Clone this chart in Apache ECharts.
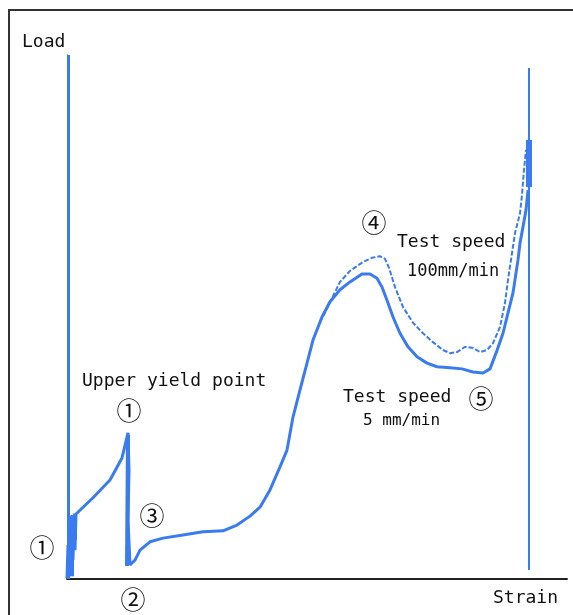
<!DOCTYPE html>
<html>
<head>
    <title>Load - Strain</title>
    <script src="https://cdn.jsdelivr.net/npm/echarts@6/dist/echarts.min.js"></script>
    <meta charset="utf-8">
    <style>
        html, body { margin: 0; padding: 0; background: #fff; }
    </style>
</head>
<body>
<div id="load_strain" style="width:573px;height:615px;"></div>
<script type="text/javascript">
    // strain / load (axes 0..100, no units shown)
    var slowStrain = [0, 0.2, 0.4, 0.6, 0.8, 1.0, 1.2, 1.4, 1.6, 1.8, 2.0, 5.2, 8.6, 11.0, 12.2, 12.4, 12.2, 12.6,
        13.6, 14.6, 16.6, 19.2, 23.2, 27.2, 31.2, 34.0, 36.6, 38.6, 40.6, 42.6, 44.0, 45.2, 46.6, 48.0, 49.2,
        51.0, 52.6, 54.6, 56.6, 59.0, 60.6, 62.0, 63.0, 64.0, 65.2, 66.6, 68.2, 70.0, 72.0, 74.0, 76.6, 79.0,
        81.2, 83.2, 84.6, 85.8, 87.2, 88.2, 89.2, 90.2, 90.6, 91.2, 91.8, 92.2];
    var slowLoad = [0.2, 6.5, 0.8, 11.3, 1.7, 12.2, 3.6, 11.6, 5.5, 12.4, 12.2, 15.5, 18.9, 23.1, 27.9, 20.8, 11.3, 2.7,
        3.6, 5.5, 7.1, 7.8, 8.4, 9.0, 9.2, 10.3, 12.0, 13.7, 17.0, 21.4, 24.6, 30.9, 36.1, 41.2, 45.6,
        50.0, 52.9, 55.2, 56.7, 58.2, 58.2, 57.4, 55.7, 53.2, 50.0, 46.9, 44.3, 42.4, 41.2, 40.5, 40.3, 40.1,
        39.5, 39.3, 40.1, 43.1, 46.9, 50.8, 54.6, 60.9, 64.1, 67.2, 70.4, 74.2];

    var fastStrain = [50.6, 52.8, 54.6, 56.6, 59.2, 61.0, 62.6, 63.6, 64.4, 65.6, 67.2, 69.2, 71.2, 73.2, 75.2,
        76.6, 78.0, 79.6, 81.2, 82.6, 84.0, 85.2, 86.6, 87.6, 88.2, 88.8, 89.6, 90.6, 91.0, 91.4, 91.8];
    var fastLoad = [49.0, 53.2, 56.7, 58.8, 60.5, 61.3, 61.6, 61.1, 59.4, 55.7, 51.9, 48.9, 46.9, 45.2, 43.7,
        43.1, 43.3, 44.3, 44.1, 43.3, 43.7, 45.0, 48.1, 52.7, 57.1, 60.9, 66.0, 69.8, 73.3, 78.1, 81.9];

    // elastic part along the load axis, the noisy start, the yield drop and the fracture spike
    var elasticStrain = [0.3, 0.3];
    var elasticLoad = [0, 100];
    var startStrain = [0.8, 0.8];
    var startLoad = [0.5, 12.0];
    var startTopStrain = [1.6, 1.6];
    var startTopLoad = [7.5, 12.5];
    var dropStrain = [12.0, 12.2];
    var dropLoad = [2.5, 27.5];
    var breakStrain = [92.4, 92.4];
    var breakLoad = [1.7, 97.5];
    var breakBandLoad = [74.8, 83.8];

    function pairs(xs, ys) {
        var out = [];
        for (var i = 0; i < xs.length; i++) out.push([xs[i], ys[i]]);
        return out;
    }

    var blue = '#3b7bf2';
    var txtFont = '"DejaVu Sans Mono", monospace';
    var numFont = '"Noto Sans CJK JP", sans-serif';

    function label(x, y, text, size) {
        return {
            type: 'text', x: x, y: y,
            style: { text: text, font: size + 'px ' + txtFont, fill: '#111', align: 'left', verticalAlign: 'middle' }
        };
    }
    function circled(x, y, text) {
        return {
            type: 'text', x: x, y: y,
            style: { text: text, font: '25px ' + numFont, fill: '#111', align: 'center', verticalAlign: 'middle' }
        };
    }
    function band(name, xs, ys, width) {
        return {
            name: name, type: 'line', symbol: 'none',
            lineStyle: { color: blue, width: width },
            data: pairs(xs, ys)
        };
    }

    var myChart = echarts.init(document.getElementById('load_strain'));

    var option = {
        animation: false,
        grid: { left: 67, top: 55, right: 6, bottom: 36 },
        xAxis: {
            type: 'value', min: 0, max: 100,
            axisLine: { lineStyle: { color: '#222', width: 2 } },
            axisTick: { show: false }, axisLabel: { show: false }, splitLine: { show: false }
        },
        yAxis: {
            type: 'value', min: 0, max: 100,
            axisLine: { show: true, lineStyle: { color: '#222', width: 1 } },
            axisTick: { show: false }, axisLabel: { show: false }, splitLine: { show: false }
        },
        series: [
            band('elastic', elasticStrain, elasticLoad, 3),
            band('start', startStrain, startLoad, 6),
            band('start top', startTopStrain, startTopLoad, 4),
            band('drop', dropStrain, dropLoad, 4),
            {
                name: '5 mm/min', type: 'line', symbol: 'none',
                lineStyle: { color: blue, width: 3 },
                data: pairs(slowStrain, slowLoad)
            },
            {
                name: '100mm/min', type: 'line', symbol: 'none',
                lineStyle: { color: blue, width: 2, type: [5, 2] },
                data: pairs(fastStrain, fastLoad)
            },
            band('break', breakStrain, breakLoad, 2),
            band('break band', breakStrain, breakBandLoad, 6)
        ],
        graphic: [
            { type: 'polyline', shape: { points: [[9, 615], [9, 10], [573, 10]] }, style: { stroke: '#333', lineWidth: 2, fill: null } },
            label(22, 42, 'Load', 18),
            label(82, 381, 'Upper yield point', 18),
            label(397, 242, 'Test speed', 18),
            label(407, 272, '100mm/min', 17),
            label(343, 397, 'Test speed', 18),
            label(363, 421, '5 mm/min', 16),
            label(493, 598, 'Strain', 18),
            circled(129, 410, '①'),
            circled(152, 515, '③'),
            circled(42, 547, '①'),
            circled(133, 599, '②'),
            circled(374, 222, '④'),
            circled(481, 398, '⑤')
        ]
    };

    myChart.setOption(option);
</script>
</body>
</html>
